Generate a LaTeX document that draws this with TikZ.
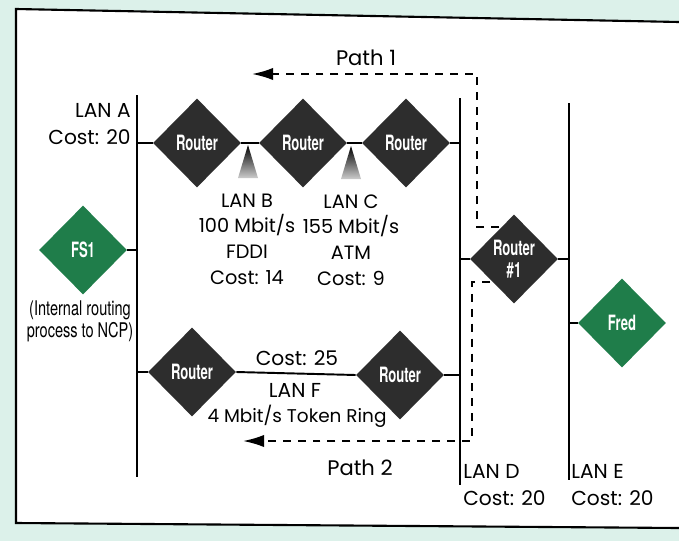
\documentclass[tikz,border=0pt]{standalone}
\usepackage{fontspec}
\setmainfont{Poppins}
\newfontfamily\condfont[FakeStretch=0.72]{TeX Gyre Heros}
\newfontfamily\routerfont[FakeStretch=0.62]{TeX Gyre Heros}
\usetikzlibrary{arrows.meta, shapes.geometric}

\definecolor{netgreen}{HTML}{1F7D4A}
\definecolor{routergray}{HTML}{2D2D2D}
\definecolor{pagebg}{HTML}{DCF1EA}

\begin{document}
\begin{tikzpicture}[
  x=0.02cm, y=-0.02cm,
  router/.style={diamond, fill=routergray, text=white, inner sep=0pt,
                 minimum width=1.76cm, minimum height=1.78cm, align=center,
                 font=\routerfont\bfseries\fontsize{12}{12.5}\selectfont},
  host/.style={router, fill=netgreen},
  bus/.style={line width=1.1pt},
  link/.style={line width=1.1pt},
  route/.style={line width=1.1pt, dash pattern=on 4.5pt off 4pt,
                -{Latex[length=12pt, width=7pt]}},
  lbl/.style={inner sep=0pt, align=center,
              font=\fontsize{11.5}{15.5}\selectfont}
]
  \useasboundingbox (0,0) rectangle (679,541);
  \fill[pagebg] (0,0) rectangle (679,541);
  \fill[white] (16,9) -- (679,22) -- (679,528) -- (16,523) -- cycle;
  \draw[line width=1.2pt] (679,22) -- (16,9) -- (16,523) -- (679,528);

  \coordinate (lanAtop) at (137,95);
  \coordinate (lanAbot) at (137,477);
  \coordinate (lanDtop) at (460,98);
  \coordinate (lanDbot) at (460,485);
  \coordinate (lanEtop) at (569,103);
  \coordinate (lanEbot) at (569,480);
  \draw[bus] (lanAtop) -- (lanAbot);
  \draw[bus] (lanDtop) -- (lanDbot);
  \draw[bus] (lanEtop) -- (lanEbot);

  \node[router] (ra)   at (197,143) {Router};
  \node[router] (rb)   at (303,143) {Router};
  \node[router] (rc)   at (406,143) {Router};
  \node[router] (rf1)  at (192,372) {Router};
  \node[router] (rf2)  at (400,375) {Router};
  \node[router] (r1)   at (514,259) {Router\\\#1};
  \node[host]   (fs1)  at (83,250)  {FS1};
  \node[host]   (fred) at (622,323) {Fred};

  \draw[link] (ra.west)   -- (ra.west -| lanAtop);
  \draw[link] (ra.east)   -- (rb.west);
  \draw[link] (rb.east)   -- (rc.west);
  \draw[link] (rc.east)   -- (rc.east -| lanDtop);
  \draw[link] (fs1.east)  -- (fs1.east -| lanAtop);
  \draw[link] (rf1.west)  -- (rf1.west -| lanAtop);
  \draw[link] (rf1.east)  -- (rf2.west);
  \draw[link] (rf2.east)  -- (rf2.east -| lanDtop);
  \draw[link] (r1.west)   -- (r1.west -| lanDtop);
  \draw[link] (r1.east)   -- (r1.east -| lanEtop);
  \draw[link] (fred.west) -- (fred.west -| lanEtop);

  \coordinate (lanB) at (248,145);
  \coordinate (lanC) at (351,146);
  \shade[top color=black, middle color=black!75, bottom color=black!20]
    (lanB) -- ++(-10,33) -- ++(20,0) -- cycle;
  \shade[top color=black, middle color=black!75, bottom color=black!20]
    (lanC) -- ++(-10,33) -- ++(20,0) -- cycle;

  \node[lbl, anchor=east, align=right] (lanAlbl) at (131,124) {LAN A\\Cost: 20};
  \node[lbl, anchor=west, align=left]  (lanDlbl) at (463,485) {LAN D\\Cost: 20};
  \node[lbl, anchor=west, align=left]  (lanElbl) at (571,485) {LAN E\\Cost: 20};
  \node[lbl, font=\fontsize{11}{14.6}\selectfont] (lanBlbl) at (247,239)
    {LAN B\\100 Mbit/s\\FDDI\\Cost: 14};
  \node[lbl, font=\fontsize{11}{14.6}\selectfont] (lanClbl) at (351,240)
    {LAN C\\155 Mbit/s\\ATM\\Cost: 9};
  \node[lbl] (costF) at (297,358) {Cost: 25};
  \node[lbl] (lanFlbl) at (295,390) {LAN F};
  \node[lbl, font=\fontsize{10.5}{12}\selectfont] (speedF) at (297,416) {4 Mbit/s Token Ring};
  \node[lbl, inner sep=0pt, font=\condfont\fontsize{11.5}{12.5}\selectfont] (fs1note) at (80,321)
    {(Internal routing\\process to NCP)};

  \coordinate (p1start) at (499,227);
  \coordinate (p1turn)  at (477,74);
  \coordinate (p1end)   at (252,74);
  \coordinate (p2start) at (490,282);
  \coordinate (p2turn)  at (472,441);
  \coordinate (p2end)   at (243,441);
  \draw[route] (p1start) -| (p1turn) -- (p1end);
  \draw[route] (p2start) -| (p2turn) -- (p2end);
  \node[lbl, font=\fontsize{12}{14}\selectfont] (path1) at (366,58)  {Path 1};
  \node[lbl, font=\fontsize{12}{14}\selectfont] (path2) at (360,468) {Path 2};
\end{tikzpicture}
\end{document}
